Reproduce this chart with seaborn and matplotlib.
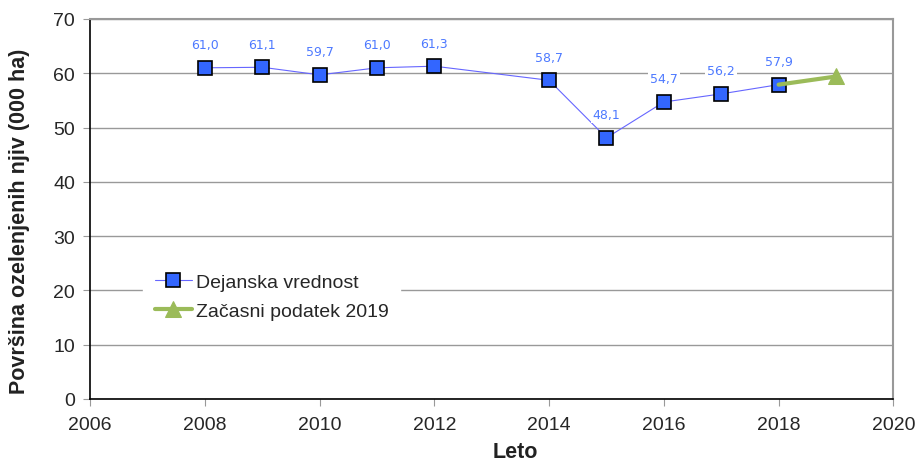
import matplotlib
matplotlib.use("Agg")
import matplotlib.pyplot as plt
import pandas as pd
import seaborn as sns

# podatki
leta = [2008, 2009, 2010, 2011, 2012, 2014, 2015, 2016, 2017, 2018]
vrednosti = [61.0, 61.1, 59.7, 61.0, 61.3, 58.7, 48.1, 54.7, 56.2, 57.9]
leta_zacasno = [2018, 2019]
vrednosti_zacasno = [57.9, 59.4]

df = pd.DataFrame({"leto": leta, "vrednost": vrednosti})
df_z = pd.DataFrame({"leto": leta_zacasno, "vrednost": vrednosti_zacasno})

sns.set_style("white")
plt.rcParams["font.family"] = ["Liberation Sans", "DejaVu Sans"]

fig, ax = plt.subplots(figsize=(9.2, 4.64), dpi=100)
fig.subplots_adjust(left=0.098, right=0.971, top=0.957, bottom=0.138)

sns.lineplot(data=df, x="leto", y="vrednost", ax=ax, color="#6666ff", linewidth=0.8,
             marker="s", markersize=10, markerfacecolor="#3366ff", markeredgecolor="black",
             markeredgewidth=1.2, label="Dejanska vrednost", zorder=3)
sns.lineplot(data=df_z, x="leto", y="vrednost", ax=ax, color="#9bbb59", linewidth=3,
             marker="^", markersize=11, markevery=[1], markeredgecolor="#9bbb59",
             label="Začasni podatek 2019", zorder=4)

# oznake vrednosti
for x, y in zip(leta, vrednosti):
    ax.annotate(f"{y:.1f}".replace(".", ","), (x, y), xytext=(0, 12), textcoords="offset points",
                ha="center", va="bottom", fontsize=9, color="#4d79ff", family="DejaVu Sans",
                bbox=dict(boxstyle="square,pad=0.15", fc="white", ec="none"), zorder=5)

ax.set_xlim(2006, 2020)
ax.set_ylim(0, 70)
ax.set_xticks(range(2006, 2021, 2))
ax.set_yticks(range(0, 71, 10))
ax.yaxis.grid(True, color="#999999", linewidth=1)
ax.set_axisbelow(True)
ax.tick_params(axis="both", labelsize=14, length=5, color="#999999", direction="out",
               left=True, bottom=True)
ax.tick_params(axis="x", pad=7)
ax.tick_params(axis="y", pad=6)

for s in ["left", "bottom"]:
    ax.spines[s].set_color("black")
    ax.spines[s].set_linewidth(1.2)
for s in ["top", "right"]:
    ax.spines[s].set_color("#999999")
    ax.spines[s].set_linewidth(1.5)

ax.set_xlabel("")
ax.set_ylabel("")
fig.text(20 / 920, 1 - 221 / 464, "Površina ozelenjenih njiv (000 ha)", rotation=90,
         ha="center", va="center", fontsize=15.5, fontweight="bold", color="#222222")
fig.text(515 / 920, 1 - 442 / 464, "Leto", ha="center", va="top", fontsize=15.5,
         fontweight="bold", color="#222222")

leg = ax.legend(loc="upper left", bbox_to_anchor=(0.0735, 0.347), frameon=True, fontsize=14,
                handlelength=1.9, handletextpad=0.2, labelspacing=0.6, borderpad=0.3,
                borderaxespad=0)
leg.get_frame().set_edgecolor("white")
leg.get_frame().set_facecolor("white")
leg.get_frame().set_alpha(1)
leg.get_frame().set_boxstyle("square")

fig.savefig("out.png", dpi=100)
